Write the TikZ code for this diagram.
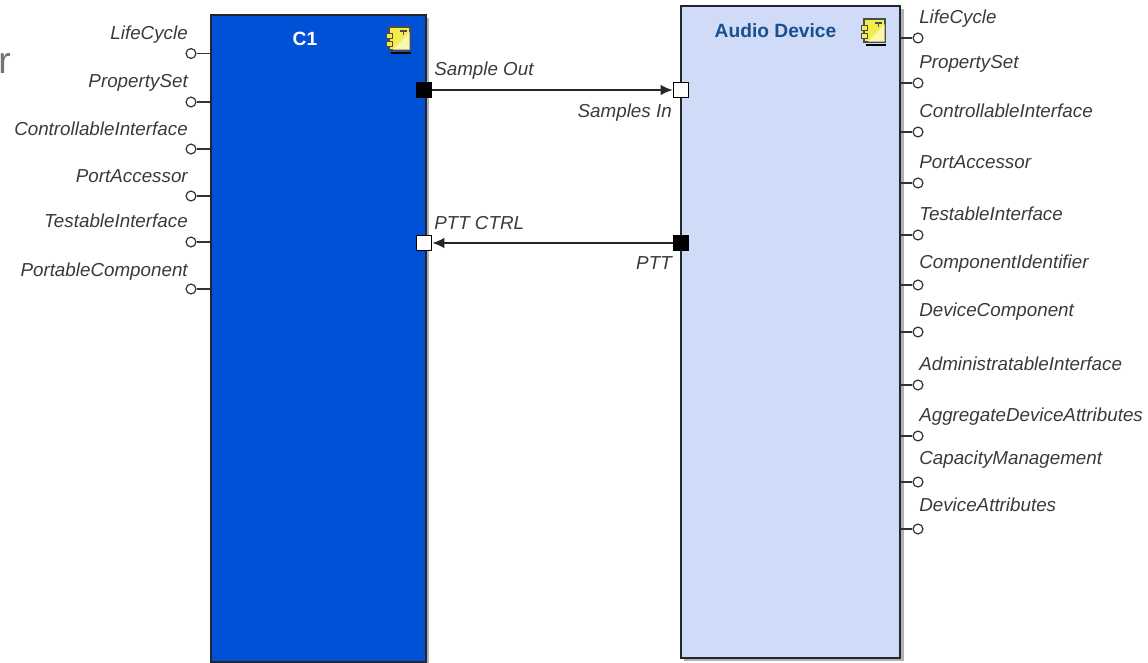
\documentclass[tikz,border=0pt]{standalone}
\usepackage{fontspec}
\setmainfont{Liberation Sans}
\usetikzlibrary{arrows.meta,positioning,shadows}
\definecolor{CompBlue}{HTML}{0051D5}
\definecolor{CompPale}{HTML}{D0DBF8}
\definecolor{TitleBlue}{HTML}{1A4F8F}
\definecolor{IconYellow}{HTML}{F2EC4C}
\definecolor{LabelGray}{HTML}{3A3A3A}
\definecolor{EdgeDark}{HTML}{22262E}

\begin{document}
\begin{tikzpicture}[
    x=0.75pt,y=-0.75pt,
    font=\fontsize{14.1pt}{16pt}\selectfont,
    >={Latex[length=9pt,width=8pt]},
    comp/.style={draw=EdgeDark,line width=1.5pt,anchor=north west,inner sep=0pt,
      drop shadow={shadow xshift=2.4pt,shadow yshift=-2.4pt,fill=black,opacity=0.3}},
    title/.style={font=\fontsize{14.4pt}{16pt}\selectfont\bfseries},
    portin/.style={draw=black,fill=white,line width=1pt,minimum size=11.6pt,inner sep=0pt},
    portout/.style={draw=black,fill=black,line width=1pt,minimum size=11.6pt,inner sep=0pt},
    flow/.style={->,line width=1.2pt,draw=black!85},
    lolly/.style={circle,draw=black!80,fill=white,line width=0.9pt,minimum size=7.4pt,inner sep=0pt},
    stub/.style={line width=0.9pt,draw=black!80},
    iface/.style={text=LabelGray,font=\fontsize{14.1pt}{16pt}\selectfont\itshape,inner sep=0pt},
    cropped/.style={text=black!55,font=\fontsize{28pt}{30pt}\selectfont,inner sep=0pt},
    compicon/.pic={
      \draw[fill=IconYellow,draw=black!70,line width=0.8pt] (-9,-12) rectangle (12,11);
      \fill[white!55!IconYellow] (11.5,-7) -- (11.5,10.5) -- (-5,10.5) -- cycle;
      \draw[fill=IconYellow,draw=black!70,line width=0.6pt] (-11.5,-6) rectangle (-6,-1);
      \draw[fill=IconYellow,draw=black!70,line width=0.6pt] (-11.5,2) rectangle (-6,7);
      \draw[black!70,line width=0.9pt] (2,-8) -- (9,-8) (5.5,-8) -- (5.5,-4);
      \draw[black,line width=0.9pt] (-7,14) -- (13,14);
    }
  ]
    \useasboundingbox (0,0) rectangle (1148,662);
    \node[cropped,anchor=base east] (cut) at (11,73) {r};

    % The two components.
    \node[comp,fill=CompBlue,minimum width=161.5pt,minimum height=485.5pt] (c1) at (209.5,13.5) {};
    \node[comp,fill=CompPale,minimum width=164.5pt,minimum height=489pt] (audio) at (680,4.5) {};
    \node[title,text=white] (c1title) at (305,39) {C1};
    \node[title,text=TitleBlue] (audiotitle) at (775.5,31) {Audio Device};
    \pic at (398,39) {compicon};
    \pic at (873,31) {compicon};

    % Ports and the two flows between them.
    \node[portout] (sampleout) at (424,90) {};
    \node[portin] (samplesin) at (681,90) {};
    \node[portin] (pttctrl) at (424,243) {};
    \node[portout] (ptt) at (681,243) {};
    \draw[flow] (sampleout) -- (samplesin);
    \draw[flow] (ptt) -- (pttctrl);
    \node[iface,anchor=base west] (sampleoutlabel) at (434,75) {Sample Out};
    \node[iface,anchor=base east] (samplesinlabel) at (672,117) {Samples In};
    \node[iface,anchor=base west] (pttctrllabel) at (434,229) {PTT CTRL};
    \node[iface,anchor=base east] (pttlabel) at (672,269) {PTT};

    % Interfaces of C1.
    \node[lolly] (lifeL) at (191,53.5) {};
    \node[lolly] (propL) at (191,102) {};
    \node[lolly] (ctrlL) at (191,149) {};
    \node[lolly] (portL) at (191,196) {};
    \node[lolly] (testL) at (191,242) {};
    \node[lolly] (portableL) at (191,289) {};
    \draw[stub] (lifeL) -- (lifeL -| c1.west);
    \draw[stub] (propL) -- (propL -| c1.west);
    \draw[stub] (ctrlL) -- (ctrlL -| c1.west);
    \draw[stub] (portL) -- (portL -| c1.west);
    \draw[stub] (testL) -- (testL -| c1.west);
    \draw[stub] (portableL) -- (portableL -| c1.west);
    \node[iface,anchor=base east] at (188,39) {LifeCycle};
    \node[iface,anchor=base east] at (188,87) {PropertySet};
    \node[iface,anchor=base east] at (188,135) {ControllableInterface};
    \node[iface,anchor=base east] at (188,182) {PortAccessor};
    \node[iface,anchor=base east] at (188,227) {TestableInterface};
    \node[iface,anchor=base east] at (188,276) {PortableComponent};

    % Interfaces of the audio device.
    \node[lolly] (lifeR) at (918,38) {};
    \node[lolly] (propR) at (918,83) {};
    \node[lolly] (ctrlR) at (918,132) {};
    \node[lolly] (portR) at (918,183) {};
    \node[lolly] (testR) at (918,235) {};
    \node[lolly] (identR) at (918,285) {};
    \node[lolly] (deviceR) at (918,332) {};
    \node[lolly] (adminR) at (918,385) {};
    \node[lolly] (aggrR) at (918,436) {};
    \node[lolly] (capR) at (918,482) {};
    \node[lolly] (attrR) at (918,529) {};
    \draw[stub] (lifeR -| audio.east) -- (lifeR);
    \draw[stub] (propR -| audio.east) -- (propR);
    \draw[stub] (ctrlR -| audio.east) -- (ctrlR);
    \draw[stub] (portR -| audio.east) -- (portR);
    \draw[stub] (testR -| audio.east) -- (testR);
    \draw[stub] (identR -| audio.east) -- (identR);
    \draw[stub] (deviceR -| audio.east) -- (deviceR);
    \draw[stub] (adminR -| audio.east) -- (adminR);
    \draw[stub] (aggrR -| audio.east) -- (aggrR);
    \draw[stub] (capR -| audio.east) -- (capR);
    \draw[stub] (attrR -| audio.east) -- (attrR);
    \node[iface,anchor=base west] at (919,23) {LifeCycle};
    \node[iface,anchor=base west] at (919,68) {PropertySet};
    \node[iface,anchor=base west] at (919,117) {ControllableInterface};
    \node[iface,anchor=base west] at (919,168) {PortAccessor};
    \node[iface,anchor=base west] at (919,220) {TestableInterface};
    \node[iface,anchor=base west] at (919,268) {ComponentIdentifier};
    \node[iface,anchor=base west] at (919,316) {DeviceComponent};
    \node[iface,anchor=base west] at (919,370) {AdministratableInterface};
    \node[iface,anchor=base west] at (919,421) {AggregateDeviceAttributes};
    \node[iface,anchor=base west] at (919,464) {CapacityManagement};
    \node[iface,anchor=base west] at (919,511) {DeviceAttributes};
  \end{tikzpicture}
\end{document}
